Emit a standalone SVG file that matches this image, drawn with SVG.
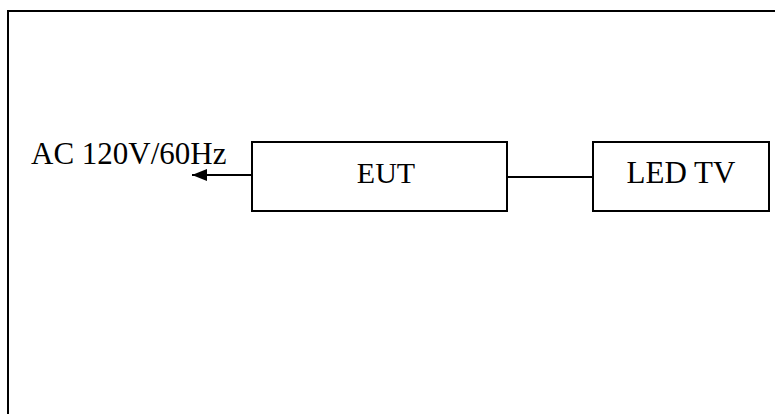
<svg xmlns="http://www.w3.org/2000/svg" width="775" height="414" viewBox="0 0 775 414">
<style>
.box{fill:#fff;stroke:#000;stroke-width:2}
.ln{stroke:#000;stroke-width:2;fill:none}
.t{font-family:"Liberation Serif","Times New Roman",serif;fill:#000}
</style>
<defs>
<marker id="ah" markerUnits="userSpaceOnUse" markerWidth="16" markerHeight="14" refX="15" refY="7" orient="auto">
<path d="M0,1 L15,7 L0,13 Z" fill="#000"/>
</marker>
</defs>
<rect width="775" height="414" fill="#fff"/>
<rect x="8" y="11" width="800" height="440" fill="none" stroke="#000" stroke-width="2"/>
<g id="connectors">
<line class="ln" x1="252" y1="175" x2="192" y2="175" marker-end="url(#ah)"/>
<line class="ln" x1="507" y1="177" x2="593" y2="177"/>
</g>
<g id="ac">
<text class="t" x="31" y="164" font-size="31">AC 120V/60Hz</text>
</g>
<g id="eut">
<rect class="box" x="252" y="142" width="255" height="69"/>
<text class="t" x="386" y="183" font-size="30" text-anchor="middle">EUT</text>
</g>
<g id="ledtv">
<rect class="box" x="593" y="142" width="176" height="69"/>
<text class="t" x="681" y="183" font-size="31" text-anchor="middle">LED TV</text>
</g>
</svg>
